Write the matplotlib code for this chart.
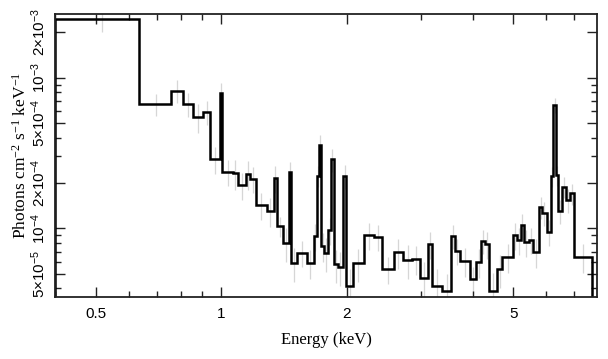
import matplotlib
matplotlib.use("Agg")
import matplotlib.pyplot as plt
import matplotlib.ticker as ticker
import numpy as np

# bin edges (keV) and model-folded flux (photons cm^-2 s^-1 keV^-1)
edges = [0.400, 0.637, 0.759, 0.809, 0.855, 0.904, 0.941, 0.993, 1.007,
         1.066, 1.097, 1.148, 1.173, 1.209, 1.287, 1.334, 1.362, 1.404,
         1.449, 1.471, 1.516, 1.607, 1.664, 1.691, 1.712, 1.736, 1.765,
         1.804, 1.829, 1.857, 1.899, 1.956, 1.992, 2.067, 2.192, 2.316,
         2.426, 2.586, 2.723, 2.862, 2.984, 3.126, 3.196, 3.377, 3.554,
         3.634, 3.721, 3.932, 4.080, 4.187, 4.271, 4.366, 4.573, 4.709,
         5.003, 5.106, 5.214, 5.301, 5.449, 5.586, 5.768, 5.870, 6.011,
         6.159, 6.237, 6.331, 6.401, 6.555, 6.701, 6.839, 7.011, 7.725]

flux = [2.45e-3, 6.69e-4, 8.20e-4, 6.74e-4, 5.51e-4, 5.90e-4, 2.88e-4, 7.91e-4,
        2.38e-4, 2.32e-4, 1.94e-4, 2.29e-4, 2.13e-4, 1.42e-4, 1.30e-4, 2.15e-4,
        1.03e-4, 7.99e-5, 2.37e-4, 5.88e-5, 6.91e-5, 5.93e-5, 8.89e-5, 2.23e-4,
        3.60e-4, 7.69e-5, 6.86e-5, 9.74e-5, 2.87e-4, 5.77e-5, 5.56e-5, 2.23e-4,
        4.14e-5, 5.86e-5, 9.03e-5, 8.80e-5, 5.37e-5, 6.93e-5, 6.16e-5, 6.28e-5,
        4.66e-5, 7.83e-5, 4.14e-5, 3.85e-5, 8.93e-5, 7.10e-5, 6.07e-5, 4.59e-5,
        5.97e-5, 8.24e-5, 7.83e-5, 3.86e-5, 5.34e-5, 6.48e-5, 9.03e-5, 8.36e-5,
        1.05e-4, 8.11e-5, 8.43e-5, 6.99e-5, 1.39e-4, 1.27e-4, 9.49e-5, 2.21e-4,
        6.59e-4, 2.26e-4, 1.31e-4, 1.88e-4, 1.54e-4, 1.71e-4, 6.48e-5]

# relative 1-sigma errors
rel_err = [0.18, 0.17, 0.17, 0.18, 0.22, 0.18, 0.20, 0.17, 0.20, 0.22,
           0.20, 0.22, 0.20, 0.20, 0.22, 0.20, 0.15, 0.25, 0.16, 0.25,
           0.20, 0.22, 0.20, 0.16, 0.15, 0.22, 0.25, 0.20, 0.17, 0.25,
           0.25, 0.18, 0.30, 0.25, 0.20, 0.20, 0.20, 0.22, 0.25, 0.22,
           0.28, 0.20, 0.30, 0.30, 0.18, 0.20, 0.22, 0.20, 0.22, 0.18,
           0.20, 0.30, 0.25, 0.22, 0.20, 0.20, 0.18, 0.20, 0.20, 0.22,
           0.17, 0.18, 0.20, 0.15, 0.12, 0.15, 0.18, 0.16, 0.18, 0.16,
           0.22]

xticks = [0.5, 1, 2, 5]
xticklabels = ["0.5", "1", "2", "5"]
yticks = [5e-5, 1e-4, 2e-4, 5e-4, 1e-3, 2e-3]
yticklabels = [r"$\mathregular{5{\times}10^{-5}}$", r"$\mathregular{10^{-4}}$",
               r"$\mathregular{2{\times}10^{-4}}$", r"$\mathregular{5{\times}10^{-4}}$",
               r"$\mathregular{10^{-3}}$", r"$\mathregular{2{\times}10^{-3}}$"]

plt.rcParams['font.family'] = ['Liberation Sans', 'DejaVu Sans']

fig = plt.figure(figsize=(6.08, 3.59), dpi=100)
ax = fig.add_axes([0.0905, 0.1727, 0.8915, 0.7883])

e = np.array(edges)
f = np.array(flux)
centers = 0.5 * (e[:-1] + e[1:])

ax.errorbar(centers, f, yerr=f * np.array(rel_err), fmt='none',
            ecolor='#d6d6d6', elinewidth=0.9, zorder=1)
ax.stairs(f, e, baseline=1e-7, color='black', linewidth=1.8, zorder=2)

ax.set_xscale('log')
ax.set_yscale('log')
ax.set_xlim(0.4, 7.94)
ax.set_ylim(3.5e-5, 2.65e-3)

ax.set_xticks(xticks, xticklabels)
ax.xaxis.set_minor_formatter(ticker.NullFormatter())
ax.set_yticks(yticks, yticklabels)
ax.yaxis.set_minor_formatter(ticker.NullFormatter())

ax.tick_params(which='both', direction='in', top=True, right=True,
               color='#222222', width=1.0)
ax.tick_params(which='major', length=7)
ax.tick_params(which='minor', length=4)
ax.tick_params(axis='x', labelsize=11, pad=7)
ax.tick_params(axis='y', labelsize=11, pad=5, labelrotation=90)
for lab in ax.get_yticklabels():
    lab.set_va('center')

for s in ax.spines.values():
    s.set_linewidth(1.3)
    s.set_color('#222222')

ax.set_xlabel(r"Energy (keV)", family='Liberation Serif', fontsize=12, labelpad=8)
ax.set_ylabel(r"Photons cm$\mathregular{^{-2}}$ s$\mathregular{^{-1}}$ keV$\mathregular{^{-1}}$",
              family='Liberation Serif', fontsize=12.5, labelpad=0)

fig.savefig("out.png", dpi=100)
